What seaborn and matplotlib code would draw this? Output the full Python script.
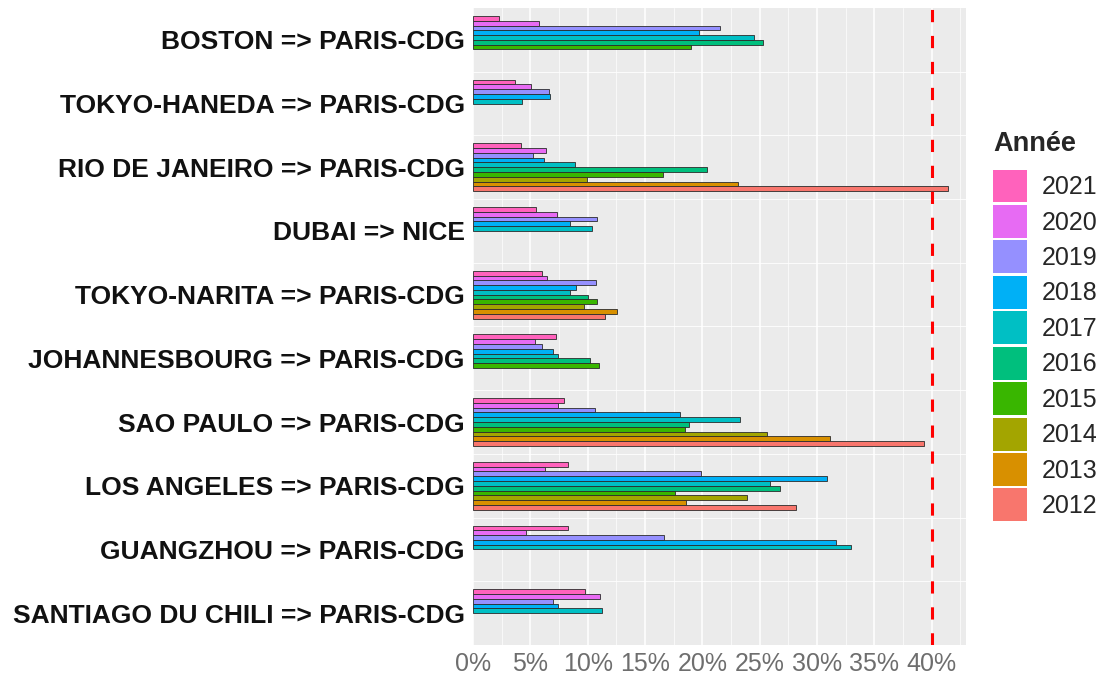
import pandas as pd
import matplotlib.pyplot as plt
import seaborn as sns
from matplotlib.patches import Patch
from matplotlib.ticker import MultipleLocator, PercentFormatter

# routes, top to bottom
routes = [
    'BOSTON => PARIS-CDG',
    'TOKYO-HANEDA => PARIS-CDG',
    'RIO DE JANEIRO => PARIS-CDG',
    'DUBAI => NICE',
    'TOKYO-NARITA => PARIS-CDG',
    'JOHANNESBOURG => PARIS-CDG',
    'SAO PAULO => PARIS-CDG',
    'LOS ANGELES => PARIS-CDG',
    'GUANGZHOU => PARIS-CDG',
    'SANTIAGO DU CHILI => PARIS-CDG',
]
years = [2021, 2020, 2019, 2018, 2017, 2016, 2015, 2014, 2013, 2012]

# share in %, newest year first (older years missing when not listed)
boston = [2.3, 5.8, 21.5, 19.7, 24.5, 25.3, 19.0]
tokyo_haneda = [3.7, 5.1, 6.6, 6.75, 4.3]
rio = [4.2, 6.4, 5.2, 6.2, 8.9, 20.45, 16.6, 9.95, 23.1, 41.4]
dubai_nice = [5.5, 7.35, 10.8, 8.45, 10.4]
tokyo_narita = [6.05, 6.45, 10.7, 8.95, 8.45, 10.0, 10.85, 9.65, 12.6, 11.5]
johannesbourg = [7.25, 5.4, 6.05, 7.0, 7.4, 10.2, 11.0]
sao_paulo = [7.9, 7.4, 10.6, 18.05, 23.3, 18.85, 18.45, 25.65, 31.1, 39.3]
los_angeles = [8.3, 6.3, 19.9, 30.9, 25.9, 26.8, 17.65, 23.9, 18.6, 28.2]
guangzhou = [8.3, 4.6, 16.7, 31.7, 33.0]
santiago = [9.8, 11.1, 7.0, 7.4, 11.25]

values = [boston, tokyo_haneda, rio, dubai_nice, tokyo_narita,
          johannesbourg, sao_paulo, los_angeles, guangzhou, santiago]

colors = ['#FF62BC', '#E76BF3', '#9590FF', '#00B0F6', '#00BFC4',
          '#00BF7D', '#39B600', '#A3A500', '#D89000', '#F8766D']

rows = []
for route, vals in zip(routes, values):
    for year, v in zip(years, vals):
        rows.append({'Route': route, 'Année': str(year), 'Part': v})
df = pd.DataFrame(rows)

year_labels = [str(y) for y in years]
palette = dict(zip(year_labels, colors))

sns.set_style('white')
plt.rcParams['font.family'] = ['Liberation Sans', 'DejaVu Sans']

fig = plt.figure(figsize=(11.02, 6.77), dpi=100)
ax = fig.add_axes([473 / 1102, 1 - 645 / 677, (966 - 473) / 1102, (645 - 8) / 677])
ax.set_facecolor('#EBEBEB')

sns.barplot(data=df, x='Part', y='Route', hue='Année', order=routes,
            hue_order=year_labels, palette=palette, orient='h', width=0.75,
            saturation=1, errorbar=None, edgecolor='#2B2B2B', linewidth=0.6,
            legend=False, ax=ax)

ax.axvline(40, color='#FF0000', lw=2.2, ls=(0, (4, 4.5)), zorder=5)

ax.set_xlim(0, 43)
ax.set_ylim(9.5, -0.5)
ax.xaxis.set_major_locator(MultipleLocator(5))
ax.xaxis.set_minor_locator(MultipleLocator(2.5))
ax.xaxis.set_major_formatter(PercentFormatter(xmax=100, decimals=0))
ax.set_axisbelow(True)
ax.grid(which='major', axis='x', color='white', lw=1.1)
ax.grid(which='minor', axis='x', color='white', lw=0.5)
ax.grid(which='major', axis='y', visible=False)
for k in range(len(routes) - 1):
    ax.axhline(k + 0.5, color='white', lw=0.6, zorder=0.5)

for s in ax.spines.values():
    s.set_visible(False)
ax.set_xlabel('')
ax.set_ylabel('')
ax.tick_params(axis='y', length=3, width=0.8, color='#333333', pad=3,
               labelsize=19, labelcolor='#111111')
ax.tick_params(axis='x', which='major', length=3, width=0.8, color='#333333',
               pad=2, labelsize=18, labelcolor='#6E6E6E')
ax.tick_params(axis='x', which='minor', length=0)
for lab in ax.get_yticklabels():
    lab.set_fontweight('bold')

handles = [Patch(facecolor=palette[y], edgecolor='none') for y in year_labels]
leg = fig.legend(handles, year_labels, title='Année', loc='upper left',
                 bbox_to_anchor=(993 / 1102, 1 - 131 / 677), frameon=False,
                 fontsize=18, title_fontsize=19.5, handlelength=1.36,
                 handleheight=1.65, labelspacing=0.1, handletextpad=0.6,
                 borderpad=0, borderaxespad=0, alignment='left')
leg.get_title().set_fontweight('bold')
# more room between the title and the first key
leg._legend_box.sep = 9

fig.savefig('out.png', dpi=100)
